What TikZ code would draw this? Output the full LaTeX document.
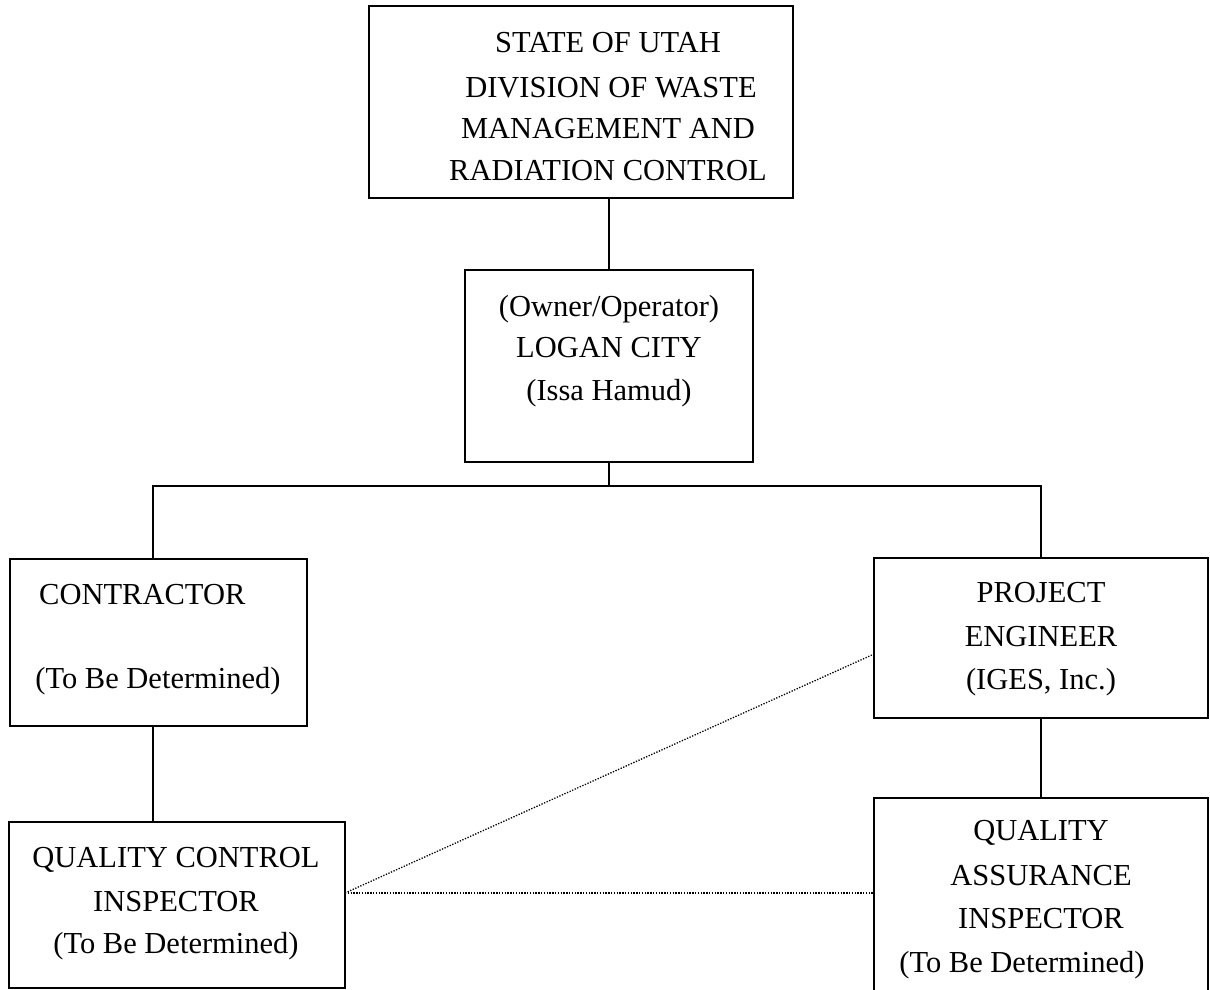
\documentclass[tikz,border=0pt]{standalone}
\usepackage{fontspec}
\setmainfont{Liberation Serif}
\begin{document}
\begin{tikzpicture}[x=1pt,y=-1pt,
  box/.style={draw=black, line width=1.6pt, rectangle, inner sep=0pt, fill=none},
  txt/.style={anchor=base, inner sep=0pt, font=\fontsize{30.5}{43}\selectfont},
  conn/.style={draw=black, line width=1.6pt},
  dotconn/.style={draw=black, line width=1.3pt, dash pattern=on 1.3pt off 1.5pt}]
\useasboundingbox (0,0) rectangle (1210,989);
% boxes
\node[box, minimum width=424pt, minimum height=192pt] (state) at (581,102) {};
\node[box, minimum width=288pt, minimum height=192pt] (logan) at (609,366) {};
\node[box, minimum width=297pt, minimum height=167pt] (contr) at (158.5,642.5) {};
\node[box, minimum width=334pt, minimum height=160pt] (pe) at (1041,638) {};
\node[box, minimum width=336pt, minimum height=166pt] (qc) at (177,905) {};
\node[box, minimum width=334pt, minimum height=197pt] (qa) at (1041,896.5) {};
% texts
\node[txt] (s1) at (608,52) {STATE OF UTAH};
\node[txt] (s2) at (611,97) {DIVISION OF WASTE};
\node[txt] (s3) at (608,138) {MANAGEMENT AND};
\node[txt] (s4) at (608,180) {RADIATION CONTROL};
\node[txt] (l1) at (609,316) {(Owner/Operator)};
\node[txt] (l2) at (609,357) {LOGAN CITY};
\node[txt] (l3) at (609,400) {(Issa Hamud)};
\node[txt, anchor=base west] (c1) at (39,604) {CONTRACTOR};
\node[txt] (c2) at (158,688) {(To Be Determined)};
\node[txt] (p1) at (1041,602) {PROJECT};
\node[txt] (p2) at (1041,646) {ENGINEER};
\node[txt] (p3) at (1041,689) {(IGES, Inc.)};
\node[txt] (q1) at (176,867) {QUALITY CONTROL};
\node[txt] (q2) at (176,911) {INSPECTOR};
\node[txt] (q3) at (176,953) {(To Be Determined)};
\node[txt] (a1) at (1041,840) {QUALITY};
\node[txt] (a2) at (1041,885) {ASSURANCE};
\node[txt] (a3) at (1041,928) {INSPECTOR};
\node[txt] (a4) at (1022,972) {(To Be Determined)};
% connectors
\coordinate (busL) at (153,486);
\coordinate (busR) at (1041,486);
\coordinate (qcR) at (345,893);
\coordinate (peL) at (874,654);
\coordinate (qaL) at (874,893);
\draw[conn] (logan.north) -- (logan.north |- state.south);
\draw[conn] (logan.south) -- (logan.south |- busL);
\draw[conn] (contr.north -| busL) -- (busL) -- (busR) -- (pe.north);
\draw[conn] (contr.south -| busL) -- (qc.north -| busL);
\draw[conn] (pe.south) -- (qa.north);
\draw[dotconn] (qcR) -- (peL);
\draw[dotconn] (qcR) -- (qaL);
\end{tikzpicture}
\end{document}
